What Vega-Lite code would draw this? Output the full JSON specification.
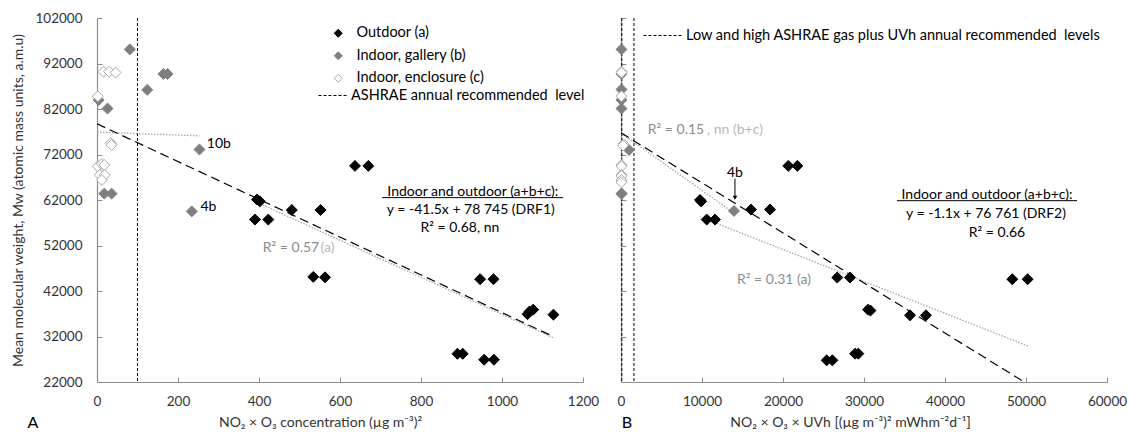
{
  "$schema": "https://vega.github.io/schema/vega-lite/v6.json",
  "padding": {"left": 11, "top": 11, "right": 2, "bottom": 0},
  "bounds": "flush",
  "spacing": 38,
  "datasets": {
    "pointsA": [
      {"x": 395, "mw": 62100, "group": "Outdoor (a)"},
      {"x": 402, "mw": 61700, "group": "Outdoor (a)"},
      {"x": 390, "mw": 57700, "group": "Outdoor (a)"},
      {"x": 423, "mw": 57700, "group": "Outdoor (a)"},
      {"x": 481, "mw": 59800, "group": "Outdoor (a)"},
      {"x": 552, "mw": 59800, "group": "Outdoor (a)"},
      {"x": 534, "mw": 45100, "group": "Outdoor (a)"},
      {"x": 563, "mw": 45000, "group": "Outdoor (a)"},
      {"x": 637, "mw": 69500, "group": "Outdoor (a)"},
      {"x": 670, "mw": 69500, "group": "Outdoor (a)"},
      {"x": 946, "mw": 44600, "group": "Outdoor (a)"},
      {"x": 979, "mw": 44600, "group": "Outdoor (a)"},
      {"x": 1063, "mw": 36900, "group": "Outdoor (a)"},
      {"x": 1068, "mw": 37500, "group": "Outdoor (a)"},
      {"x": 1077, "mw": 37900, "group": "Outdoor (a)"},
      {"x": 1127, "mw": 36800, "group": "Outdoor (a)"},
      {"x": 890, "mw": 28200, "group": "Outdoor (a)"},
      {"x": 903, "mw": 28200, "group": "Outdoor (a)"},
      {"x": 956, "mw": 26900, "group": "Outdoor (a)"},
      {"x": 980, "mw": 26900, "group": "Outdoor (a)"},
      {"x": 81, "mw": 95100, "group": "Indoor, gallery (b)"},
      {"x": 124, "mw": 86200, "group": "Indoor, gallery (b)"},
      {"x": 164, "mw": 89700, "group": "Indoor, gallery (b)"},
      {"x": 174, "mw": 89700, "group": "Indoor, gallery (b)"},
      {"x": 26, "mw": 82100, "group": "Indoor, gallery (b)"},
      {"x": 4, "mw": 84000, "group": "Indoor, gallery (b)"},
      {"x": 253, "mw": 73100, "group": "Indoor, gallery (b)"},
      {"x": 234, "mw": 59500, "group": "Indoor, gallery (b)"},
      {"x": 18, "mw": 63400, "group": "Indoor, gallery (b)"},
      {"x": 36, "mw": 63400, "group": "Indoor, gallery (b)"},
      {"x": 16, "mw": 90200, "group": "Indoor, enclosure (c)"},
      {"x": 30, "mw": 90200, "group": "Indoor, enclosure (c)"},
      {"x": 46, "mw": 90000, "group": "Indoor, enclosure (c)"},
      {"x": 2, "mw": 84800, "group": "Indoor, enclosure (c)"},
      {"x": 34, "mw": 74500, "group": "Indoor, enclosure (c)"},
      {"x": 36, "mw": 74100, "group": "Indoor, enclosure (c)"},
      {"x": 2, "mw": 69400, "group": "Indoor, enclosure (c)"},
      {"x": 12, "mw": 69900, "group": "Indoor, enclosure (c)"},
      {"x": 18, "mw": 69700, "group": "Indoor, enclosure (c)"},
      {"x": 7, "mw": 67500, "group": "Indoor, enclosure (c)"},
      {"x": 19, "mw": 67500, "group": "Indoor, enclosure (c)"},
      {"x": 12, "mw": 66400, "group": "Indoor, enclosure (c)"}
    ],
    "pointsB": [
      {"x": 9750, "mw": 62000, "group": "Outdoor (a)"},
      {"x": 9900, "mw": 61700, "group": "Outdoor (a)"},
      {"x": 10580, "mw": 57700, "group": "Outdoor (a)"},
      {"x": 11600, "mw": 57700, "group": "Outdoor (a)"},
      {"x": 16050, "mw": 59900, "group": "Outdoor (a)"},
      {"x": 18400, "mw": 59900, "group": "Outdoor (a)"},
      {"x": 20650, "mw": 69500, "group": "Outdoor (a)"},
      {"x": 21770, "mw": 69500, "group": "Outdoor (a)"},
      {"x": 26700, "mw": 44950, "group": "Outdoor (a)"},
      {"x": 28270, "mw": 44950, "group": "Outdoor (a)"},
      {"x": 30500, "mw": 37900, "group": "Outdoor (a)"},
      {"x": 30800, "mw": 37700, "group": "Outdoor (a)"},
      {"x": 35680, "mw": 36660, "group": "Outdoor (a)"},
      {"x": 37650, "mw": 36660, "group": "Outdoor (a)"},
      {"x": 48310, "mw": 44580, "group": "Outdoor (a)"},
      {"x": 50200, "mw": 44580, "group": "Outdoor (a)"},
      {"x": 25390, "mw": 26760, "group": "Outdoor (a)"},
      {"x": 26100, "mw": 26760, "group": "Outdoor (a)"},
      {"x": 28900, "mw": 28230, "group": "Outdoor (a)"},
      {"x": 29300, "mw": 28230, "group": "Outdoor (a)"},
      {"x": 60, "mw": 95100, "group": "Indoor, gallery (b)"},
      {"x": 60, "mw": 86300, "group": "Indoor, gallery (b)"},
      {"x": 60, "mw": 89700, "group": "Indoor, gallery (b)"},
      {"x": 60, "mw": 82100, "group": "Indoor, gallery (b)"},
      {"x": 60, "mw": 84000, "group": "Indoor, gallery (b)"},
      {"x": 990, "mw": 73000, "group": "Indoor, gallery (b)"},
      {"x": 13950, "mw": 59600, "group": "Indoor, gallery (b)"},
      {"x": 60, "mw": 63400, "group": "Indoor, gallery (b)"},
      {"x": 80, "mw": 63400, "group": "Indoor, gallery (b)"},
      {"x": 60, "mw": 90200, "group": "Indoor, enclosure (c)"},
      {"x": 60, "mw": 90000, "group": "Indoor, enclosure (c)"},
      {"x": 60, "mw": 84800, "group": "Indoor, enclosure (c)"},
      {"x": 300, "mw": 74300, "group": "Indoor, enclosure (c)"},
      {"x": 250, "mw": 74000, "group": "Indoor, enclosure (c)"},
      {"x": 60, "mw": 69700, "group": "Indoor, enclosure (c)"},
      {"x": 60, "mw": 69400, "group": "Indoor, enclosure (c)"},
      {"x": 60, "mw": 67500, "group": "Indoor, enclosure (c)"},
      {"x": 60, "mw": 67300, "group": "Indoor, enclosure (c)"},
      {"x": 60, "mw": 66400, "group": "Indoor, enclosure (c)"},
      {"x": 60, "mw": 65900, "group": "Indoor, enclosure (c)"}
    ],
    "linesA": [
      {"series": "DRF1", "x": 0, "mw": 78745},
      {"series": "DRF1", "x": 1127, "mw": 31975},
      {"series": "fit (a)", "x": 395, "mw": 61500},
      {"series": "fit (a)", "x": 1127, "mw": 31700},
      {"series": "fit (b+c)", "x": 0, "mw": 76900},
      {"series": "fit (b+c)", "x": 253, "mw": 76100}
    ],
    "linesB": [
      {"series": "DRF2", "x": 0, "mw": 76761},
      {"series": "DRF2", "x": 49800, "mw": 21981},
      {"series": "fit (a)", "x": 9750, "mw": 58300},
      {"series": "fit (a)", "x": 50400, "mw": 29800},
      {"series": "fit (b+c)", "x": 0, "mw": 76700},
      {"series": "fit (b+c)", "x": 13500, "mw": 59700}
    ],
    "limitsA": [
      {"x": 100, "label": "ASHRAE annual recommended\u00a0 level"}
    ],
    "limitsB": [
      {"x": 100, "label": "Low and high ASHRAE gas plus UVh annual recommended\u00a0 levels"},
      {"x": 1600, "label": "Low and high ASHRAE gas plus UVh annual recommended\u00a0 levels"}
    ],
    "notesA": [
      {"x": 301, "mw": 74280, "text": "10b", "tone": "main"},
      {"x": 275, "mw": 60430, "text": "4b", "tone": "main"},
      {"x": 479, "mw": 51400, "text": "R² = 0.57", "tone": "fit"},
      {"x": 569, "mw": 51400, "text": "(a)", "tone": "faint"},
      {"x": 928, "mw": 63790, "text": "Indoor and outdoor (a+b+c):", "tone": "main"},
      {"x": 923, "mw": 59770, "text": "y = -41.5x + 78 745 (DRF1)", "tone": "main"},
      {"x": 896, "mw": 55800, "text": "R² = 0.68, nn", "tone": "main"}
    ],
    "notesB": [
      {"x": 6790, "mw": 77360, "text": "R² = 0.15", "tone": "fit"},
      {"x": 14070, "mw": 77360, "text": ", nn (b+c)", "tone": "faint"},
      {"x": 14070, "mw": 67970, "text": "4b", "tone": "main"},
      {"x": 18890, "mw": 44370, "text": "R² = 0.31 (a)", "tone": "fit"},
      {"x": 45190, "mw": 63060, "text": "Indoor and outdoor (a+b+c):", "tone": "main"},
      {"x": 45060, "mw": 58900, "text": "y = -1.1x + 76 761 (DRF2)", "tone": "main"},
      {"x": 46420, "mw": 54700, "text": "R² = 0.66", "tone": "main"}
    ],
    "underA": [{"x": 704, "x2": 1151, "mw": 62520}],
    "underB": [{"x": 34070, "x2": 56300, "mw": 61850}],
    "arrowB": [{"x": 14070, "mw": 66700, "mw2": 62800}],
    "arrowHeadB": [{"x": 14070, "mw": 62500}],
    "panelA": [{"x": -158, "mw": 13000, "text": "A"}],
    "panelB": [{"x": 740, "mw": 13000, "text": "B"}]
  },
  "hconcat": [
    {
      "width": 486,
      "height": 364,
      "layer": [
        {
          "data": {"name": "limitsA"},
          "mark": {"type": "rule", "color": "#000000", "strokeWidth": 1},
          "encoding": {
            "x": {"field": "x", "type": "quantitative", "scale": {"domain": [0, 1200], "nice": false, "zero": false},
              "axis": {"title": "NO₂ × O₃ concentration (µg m⁻³)²", "values": [0, 200, 400, 600, 800, 1000, 1200], "format": "d", "labelFlush": false, "labelPadding": 17, "titlePadding": 8, "titleX": 223}},
            "strokeDash": {"field": "label", "type": "nominal",
              "scale": {"domain": ["ASHRAE annual recommended\u00a0 level"], "range": [[3, 2]]},
              "legend": {"title": null, "orient": "none", "legendX": 221, "legendY": 62, "symbolType": "stroke", "symbolSize": 900, "symbolStrokeColor": "#000000", "symbolStrokeWidth": 1, "labelOffset": 2, "labelFontSize": 14.5, "labelColor": "#000000", "labelLimit": 400}}
          }
        },
        {
          "data": {"name": "linesA"},
          "transform": [{"filter": "datum.series != 'DRF1'"}],
          "mark": {"type": "line", "color": "#a6a6a6", "strokeWidth": 1.3, "strokeDash": [1.5, 1.5]},
          "encoding": {
            "x": {"field": "x", "type": "quantitative"},
            "y": {"field": "mw", "type": "quantitative"},
            "detail": {"field": "series", "type": "nominal"}
          }
        },
        {
          "data": {"name": "linesA"},
          "transform": [{"filter": "datum.series == 'DRF1'"}],
          "mark": {"type": "line", "color": "#000000", "strokeWidth": 1.2, "strokeDash": [9, 5]},
          "encoding": {
            "x": {"field": "x", "type": "quantitative"},
            "y": {"field": "mw", "type": "quantitative"}
          }
        },
        {
          "data": {"name": "pointsA"},
          "mark": {"type": "point", "shape": "diamond", "filled": true, "size": 120, "strokeWidth": 1, "opacity": 1},
          "encoding": {
            "x": {"field": "x", "type": "quantitative"},
            "y": {"field": "mw", "type": "quantitative", "scale": {"domain": [22000, 102000], "nice": false, "zero": false},
              "axis": {"title": "Mean molecular weight, Mw (atomic mass units, a.m.u)", "values": [22000, 32000, 42000, 52000, 62000, 72000, 82000, 92000, 102000], "format": "d", "labelFlush": false, "labelPadding": 20, "titlePadding": 10}},
            "fill": {"field": "group", "type": "nominal",
              "scale": {"domain": ["Outdoor (a)", "Indoor, gallery (b)", "Indoor, enclosure (c)"], "range": ["#000000", "#7f7f7f", "#ffffff"]},
              "legend": {"title": null, "orient": "none", "legendX": 234, "legendY": 8, "symbolType": "diamond", "symbolSize": 64, "symbolStrokeWidth": 1, "labelOffset": 11, "rowPadding": 7.5, "labelFontSize": 14.5, "labelColor": "#000000", "labelLimit": 400}},
            "stroke": {"field": "group", "type": "nominal",
              "scale": {"domain": ["Outdoor (a)", "Indoor, gallery (b)", "Indoor, enclosure (c)"], "range": ["#000000", "#7f7f7f", "#a6a6a6"]},
              "legend": {"title": null, "orient": "none", "legendX": 234, "legendY": 8, "symbolType": "diamond", "symbolSize": 64, "symbolStrokeWidth": 1, "labelOffset": 11, "rowPadding": 7.5, "labelFontSize": 14.5, "labelColor": "#000000", "labelLimit": 400}}
          }
        },
        {
          "data": {"name": "notesA"},
          "mark": {"type": "text", "fontSize": 14, "align": "center", "baseline": "middle"},
          "encoding": {
            "x": {"field": "x", "type": "quantitative"},
            "y": {"field": "mw", "type": "quantitative"},
            "text": {"field": "text", "type": "nominal"},
            "color": {"field": "tone", "type": "nominal", "scale": {"domain": ["main", "fit", "faint"], "range": ["#000000", "#8c8c8c", "#b8b8b8"]}, "legend": null}
          }
        },
        {
          "data": {"name": "underA"},
          "mark": {"type": "rule", "color": "#000000", "strokeWidth": 1},
          "encoding": {
            "x": {"field": "x", "type": "quantitative"},
            "x2": {"field": "x2"},
            "y": {"field": "mw", "type": "quantitative"}
          }
        },
        {
          "data": {"name": "panelA"},
          "mark": {"type": "text", "fontSize": 16, "align": "center", "baseline": "middle", "color": "#000000"},
          "encoding": {
            "x": {"field": "x", "type": "quantitative"},
            "y": {"field": "mw", "type": "quantitative"},
            "text": {"field": "text", "type": "nominal"}
          }
        }
      ]
    },
    {
      "width": 486,
      "height": 364,
      "layer": [
        {
          "data": {"name": "limitsB"},
          "mark": {"type": "rule", "color": "#000000", "strokeWidth": 1},
          "encoding": {
            "x": {"field": "x", "type": "quantitative", "scale": {"domain": [0, 60000], "nice": false, "zero": false},
              "axis": {"title": "NO₂ × O₃ × UVh [(µg m⁻³)² mWhm⁻²d⁻¹]", "values": [0, 10000, 20000, 30000, 40000, 50000, 60000], "format": "d", "labelFlush": false, "labelPadding": 17, "titlePadding": 8, "titleX": 229}},
            "strokeDash": {"field": "label", "type": "nominal",
              "scale": {"domain": ["Low and high ASHRAE gas plus UVh annual recommended\u00a0 levels"], "range": [[3, 2]]},
              "legend": {"title": null, "orient": "none", "legendX": 22, "legendY": -3, "symbolType": "stroke", "symbolSize": 1600, "symbolStrokeColor": "#000000", "symbolStrokeWidth": 1, "labelOffset": 2, "labelFontSize": 14.5, "labelColor": "#000000", "labelLimit": 500}}
          }
        },
        {
          "data": {"name": "linesB"},
          "transform": [{"filter": "datum.series != 'DRF2'"}],
          "mark": {"type": "line", "color": "#a6a6a6", "strokeWidth": 1.3, "strokeDash": [1.5, 1.5]},
          "encoding": {
            "x": {"field": "x", "type": "quantitative"},
            "y": {"field": "mw", "type": "quantitative"},
            "detail": {"field": "series", "type": "nominal"}
          }
        },
        {
          "data": {"name": "linesB"},
          "transform": [{"filter": "datum.series == 'DRF2'"}],
          "mark": {"type": "line", "color": "#000000", "strokeWidth": 1.2, "strokeDash": [9, 5]},
          "encoding": {
            "x": {"field": "x", "type": "quantitative"},
            "y": {"field": "mw", "type": "quantitative"}
          }
        },
        {
          "data": {"name": "pointsB"},
          "mark": {"type": "point", "shape": "diamond", "filled": true, "size": 120, "strokeWidth": 1, "opacity": 1},
          "encoding": {
            "x": {"field": "x", "type": "quantitative"},
            "y": {"field": "mw", "type": "quantitative", "scale": {"domain": [22000, 102000], "nice": false, "zero": false},
              "axis": {"title": null, "labels": false, "values": [22000, 32000, 42000, 52000, 62000, 72000, 82000, 92000, 102000]}},
            "fill": {"field": "group", "type": "nominal",
              "scale": {"domain": ["Outdoor (a)", "Indoor, gallery (b)", "Indoor, enclosure (c)"], "range": ["#000000", "#7f7f7f", "#ffffff"]}, "legend": null},
            "stroke": {"field": "group", "type": "nominal",
              "scale": {"domain": ["Outdoor (a)", "Indoor, gallery (b)", "Indoor, enclosure (c)"], "range": ["#000000", "#7f7f7f", "#a6a6a6"]}, "legend": null}
          }
        },
        {
          "data": {"name": "notesB"},
          "mark": {"type": "text", "fontSize": 14, "align": "center", "baseline": "middle"},
          "encoding": {
            "x": {"field": "x", "type": "quantitative"},
            "y": {"field": "mw", "type": "quantitative"},
            "text": {"field": "text", "type": "nominal"},
            "color": {"field": "tone", "type": "nominal", "scale": {"domain": ["main", "fit", "faint"], "range": ["#000000", "#8c8c8c", "#b8b8b8"]}, "legend": null}
          }
        },
        {
          "data": {"name": "underB"},
          "mark": {"type": "rule", "color": "#000000", "strokeWidth": 1},
          "encoding": {
            "x": {"field": "x", "type": "quantitative"},
            "x2": {"field": "x2"},
            "y": {"field": "mw", "type": "quantitative"}
          }
        },
        {
          "data": {"name": "arrowB"},
          "mark": {"type": "rule", "color": "#000000", "strokeWidth": 1},
          "encoding": {
            "x": {"field": "x", "type": "quantitative"},
            "y": {"field": "mw", "type": "quantitative"},
            "y2": {"field": "mw2"}
          }
        },
        {
          "data": {"name": "arrowHeadB"},
          "mark": {"type": "point", "shape": "triangle-down", "filled": true, "size": 22, "color": "#000000", "opacity": 1},
          "encoding": {
            "x": {"field": "x", "type": "quantitative"},
            "y": {"field": "mw", "type": "quantitative"}
          }
        },
        {
          "data": {"name": "panelB"},
          "mark": {"type": "text", "fontSize": 16, "align": "center", "baseline": "middle", "color": "#000000"},
          "encoding": {
            "x": {"field": "x", "type": "quantitative"},
            "y": {"field": "mw", "type": "quantitative"},
            "text": {"field": "text", "type": "nominal"}
          }
        }
      ]
    }
  ],
  "resolve": {
    "scale": {"x": "independent", "y": "independent", "fill": "independent", "stroke": "independent", "strokeDash": "independent", "color": "independent"},
    "legend": {"fill": "independent", "stroke": "independent", "strokeDash": "independent", "color": "independent"}
  },
  "config": {
    "font": "Lato",
    "view": {"stroke": null},
    "axis": {
      "grid": false,
      "domainColor": "#8c8c8c",
      "domainWidth": 1.2,
      "tickColor": "#8c8c8c",
      "tickSize": -5,
      "tickWidth": 1,
      "labelColor": "#333333",
      "labelFontSize": 13.5,
      "labelFont": "Lato",
      "titleFont": "Lato",
      "titleFontSize": 14,
      "titleFontWeight": "normal",
      "titleColor": "#333333"
    },
    "text": {"font": "Lato"},
    "legend": {"labelFont": "Lato"}
  }
}
